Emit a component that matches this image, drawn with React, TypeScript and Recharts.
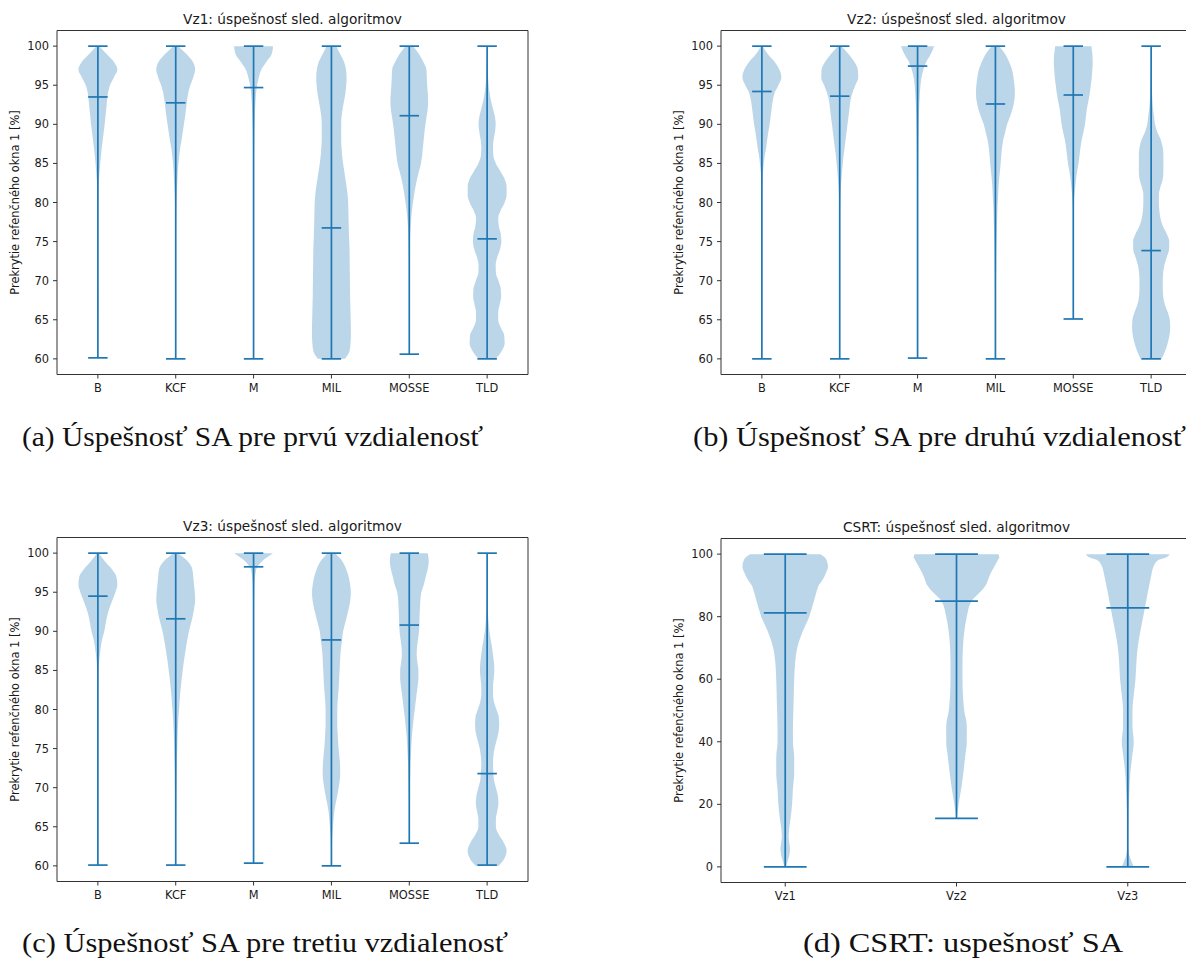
import React from 'react';
import { ComposedChart, Area, XAxis, YAxis, ReferenceLine, ReferenceArea } from 'recharts';

const BLUE = '#1f77b4';
const FONT = 'DejaVu Sans';
const HALF = 0.25; // max violin half width (category units)
const CAP = 0.125; // half length of min / max / mean markers

// ---------- value levels ----------
const LEVELS_PCT = [
  60, 61, 62, 63, 64, 65, 66, 67, 68, 69,
  70, 71, 72, 73, 74, 75, 76, 77, 78, 79,
  80, 81, 82, 83, 84, 85, 86, 87, 88, 89,
  90, 91, 92, 93, 94, 95, 96, 97, 98, 99,
  100,
];
const LEVELS_CSRT = [0, 2, 4, 6, 8, 10, 15, 16, 20, 25, 30, 35, 40, 45, 50, 55, 60, 65, 70, 75, 80, 85, 88, 90, 92, 94, 96, 98, 99, 100];

const ALGOS = ['B', 'KCF', 'M', 'MIL', 'MOSSE', 'TLD'];
const DIST = ['Vz1', 'Vz2', 'Vz3'];
const PCT_TICKS = [60, 65, 70, 75, 80, 85, 90, 95, 100];
const CSRT_TICKS = [0, 20, 40, 60, 80, 100];

// ---------- Vz1 (relative density per level 60..100) ----------
const vz1B = [null, 0.01, 0.01, 0.015, 0.02, 0.025, 0.03, 0.035, 0.03, 0.02, 0.015, 0.01, 0.01, 0.01, 0.01, 0.01, 0.01, 0.01, 0.01, 0.015, 0.02, 0.03, 0.04, 0.06, 0.09, 0.12, 0.16, 0.2, 0.25, 0.3, 0.35, 0.39, 0.43, 0.47, 0.52, 0.62, 0.82, 1.0, 0.82, 0.45, 0.08];
const vz1KCF = [0.005, 0.005, 0.005, 0.005, 0.005, 0.005, 0.005, 0.005, 0.005, 0.005, 0.005, 0.01, 0.01, 0.01, 0.01, 0.01, 0.015, 0.02, 0.025, 0.03, 0.04, 0.05, 0.07, 0.09, 0.11, 0.14, 0.18, 0.23, 0.3, 0.36, 0.42, 0.48, 0.53, 0.58, 0.64, 0.75, 0.9, 1.0, 0.88, 0.55, 0.12];
const vz1M = [0.006, 0.006, 0.006, 0.006, 0.006, 0.006, 0.006, 0.006, 0.006, 0.006, 0.006, 0.006, 0.006, 0.006, 0.006, 0.006, 0.006, 0.006, 0.006, 0.006, 0.01, 0.012, 0.013, 0.015, 0.018, 0.02, 0.025, 0.03, 0.035, 0.04, 0.05, 0.065, 0.08, 0.1, 0.13, 0.18, 0.27, 0.4, 0.66, 0.93, 1.0];
const vz1MIL = [0.7, 0.93, 0.98, 1.0, 1.0, 0.99, 0.98, 0.97, 0.96, 0.955, 0.95, 0.945, 0.94, 0.935, 0.93, 0.915, 0.9, 0.89, 0.88, 0.87, 0.86, 0.83, 0.78, 0.72, 0.66, 0.6, 0.55, 0.52, 0.5, 0.5, 0.5, 0.52, 0.58, 0.65, 0.72, 0.76, 0.78, 0.75, 0.65, 0.45, 0.25];
const vz1MOSSE = [null, 0.005, 0.005, 0.005, 0.005, 0.005, 0.005, 0.005, 0.005, 0.005, 0.01, 0.012, 0.015, 0.02, 0.025, 0.035, 0.05, 0.07, 0.1, 0.14, 0.19, 0.25, 0.32, 0.4, 0.5, 0.6, 0.66, 0.7, 0.74, 0.78, 0.83, 0.89, 0.95, 0.97, 0.95, 0.92, 0.9, 0.88, 0.72, 0.5, 0.2];
const vz1TLD = [0.45, 0.75, 0.9, 0.88, 0.7, 0.57, 0.57, 0.65, 0.72, 0.7, 0.58, 0.45, 0.44, 0.52, 0.66, 0.73, 0.7, 0.6, 0.57, 0.7, 0.9, 1.0, 1.0, 0.9, 0.68, 0.45, 0.32, 0.3, 0.33, 0.4, 0.44, 0.4, 0.3, 0.2, 0.13, 0.08, 0.05, 0.03, 0.02, 0.01, 0.005];
const vz1Min = [60.13, 60.0, 60.0, 60.0, 60.6, 60.0];
const vz1Max = [100, 100, 100, 100, 100, 100];
const vz1Mean = [93.5, 92.75, 94.7, 76.75, 91.1, 75.35];

// ---------- Vz2 ----------
const vz2B = [0.005, 0.005, 0.005, 0.005, 0.005, 0.005, 0.005, 0.005, 0.005, 0.005, 0.005, 0.005, 0.005, 0.005, 0.005, 0.005, 0.005, 0.005, 0.005, 0.005, 0.005, 0.005, 0.015, 0.03, 0.06, 0.1, 0.15, 0.22, 0.27, 0.33, 0.4, 0.45, 0.5, 0.56, 0.65, 0.85, 1.0, 0.9, 0.65, 0.3, 0.05];
const vz2KCF = [0.005, 0.005, 0.005, 0.005, 0.005, 0.005, 0.005, 0.005, 0.005, 0.005, 0.005, 0.005, 0.005, 0.005, 0.005, 0.005, 0.005, 0.005, 0.01, 0.02, 0.03, 0.04, 0.06, 0.09, 0.12, 0.16, 0.2, 0.25, 0.3, 0.35, 0.4, 0.45, 0.5, 0.55, 0.65, 0.8, 0.95, 0.93, 0.75, 0.45, 0.1];
const vz2M = [null, 0.005, 0.005, 0.005, 0.005, 0.01, 0.01, 0.01, 0.01, 0.01, 0.01, 0.012, 0.012, 0.012, 0.012, 0.012, 0.015, 0.015, 0.015, 0.015, 0.02, 0.022, 0.025, 0.028, 0.03, 0.032, 0.035, 0.04, 0.045, 0.05, 0.06, 0.07, 0.08, 0.1, 0.12, 0.15, 0.2, 0.3, 0.45, 0.68, 0.85];
const vz2MIL = [0.005, 0.005, 0.005, 0.005, 0.005, 0.01, 0.012, 0.015, 0.02, 0.025, 0.03, 0.035, 0.04, 0.045, 0.05, 0.06, 0.07, 0.08, 0.09, 0.1, 0.12, 0.14, 0.16, 0.19, 0.23, 0.27, 0.3, 0.34, 0.4, 0.5, 0.6, 0.75, 0.88, 0.97, 1.0, 0.98, 0.93, 0.85, 0.7, 0.5, 0.2];
const vz2MOSSE = [null, null, null, null, null, null, 0.005, 0.005, 0.005, 0.005, 0.005, 0.005, 0.005, 0.005, 0.005, 0.005, 0.005, 0.005, 0.01, 0.015, 0.03, 0.06, 0.1, 0.14, 0.2, 0.27, 0.32, 0.37, 0.43, 0.52, 0.6, 0.65, 0.7, 0.78, 0.85, 0.9, 0.95, 0.98, 1.0, 0.98, 0.93];
const vz2TLD = [0.54, 0.72, 0.85, 0.94, 0.98, 0.96, 0.85, 0.7, 0.62, 0.6, 0.6, 0.62, 0.68, 0.8, 0.92, 0.93, 0.8, 0.6, 0.48, 0.42, 0.4, 0.4, 0.48, 0.6, 0.63, 0.63, 0.63, 0.6, 0.5, 0.32, 0.2, 0.15, 0.1, 0.07, 0.05, 0.03, 0.02, 0.01, 0.005, 0.005, 0.005];
const vz2Min = [60.0, 60.0, 60.1, 60.0, 65.1, 60.0];
const vz2Max = [100, 100, 100, 100, 100, 100];
const vz2Mean = [94.2, 93.6, 97.45, 92.6, 93.75, 73.85];

// ---------- Vz3 ----------
const vz3B = [0.005, 0.005, 0.005, 0.005, 0.005, 0.005, 0.005, 0.005, 0.005, 0.005, 0.005, 0.005, 0.005, 0.005, 0.005, 0.005, 0.005, 0.005, 0.005, 0.005, 0.005, 0.005, 0.005, 0.01, 0.02, 0.04, 0.06, 0.1, 0.15, 0.22, 0.33, 0.4, 0.48, 0.6, 0.75, 0.9, 1.0, 0.95, 0.7, 0.35, 0.05];
const vz3KCF = [0.005, 0.005, 0.01, 0.012, 0.015, 0.017, 0.02, 0.025, 0.03, 0.035, 0.04, 0.045, 0.05, 0.06, 0.07, 0.08, 0.09, 0.1, 0.12, 0.14, 0.17, 0.2, 0.23, 0.27, 0.31, 0.36, 0.41, 0.47, 0.53, 0.6, 0.68, 0.78, 0.88, 0.95, 1.0, 0.98, 0.94, 0.9, 0.85, 0.6, 0.12];
const vz3M = [null, 0.005, 0.005, 0.005, 0.005, 0.005, 0.005, 0.005, 0.005, 0.005, 0.005, 0.005, 0.005, 0.005, 0.005, 0.005, 0.005, 0.005, 0.005, 0.005, 0.005, 0.005, 0.005, 0.005, 0.005, 0.01, 0.01, 0.01, 0.01, 0.01, 0.015, 0.015, 0.02, 0.025, 0.03, 0.04, 0.05, 0.08, 0.15, 0.45, 1.0];
const vz3MIL = [0.005, 0.01, 0.02, 0.03, 0.05, 0.08, 0.11, 0.15, 0.22, 0.3, 0.37, 0.43, 0.45, 0.44, 0.41, 0.37, 0.34, 0.32, 0.3, 0.3, 0.3, 0.32, 0.35, 0.38, 0.4, 0.42, 0.44, 0.46, 0.5, 0.55, 0.6, 0.7, 0.8, 0.9, 0.97, 1.0, 0.96, 0.88, 0.75, 0.55, 0.2];
const vz3MOSSE = [null, null, null, 0.005, 0.005, 0.005, 0.01, 0.01, 0.015, 0.02, 0.03, 0.04, 0.05, 0.06, 0.08, 0.1, 0.12, 0.15, 0.19, 0.23, 0.28, 0.33, 0.38, 0.43, 0.47, 0.47, 0.42, 0.38, 0.4, 0.45, 0.5, 0.52, 0.53, 0.55, 0.57, 0.62, 0.75, 0.85, 0.95, 1.0, 0.95];
const vz3TLD = [0.6, 0.9, 1.0, 0.85, 0.6, 0.45, 0.45, 0.52, 0.58, 0.55, 0.45, 0.35, 0.32, 0.3, 0.32, 0.38, 0.48, 0.58, 0.62, 0.6, 0.48, 0.35, 0.3, 0.3, 0.34, 0.37, 0.35, 0.3, 0.25, 0.18, 0.12, 0.08, 0.05, 0.03, 0.02, 0.01, 0.005, 0.005, 0.005, 0.005, 0.005];
const vz3Min = [60.1, 60.1, 60.35, 60.0, 62.9, 60.1];
const vz3Max = [100, 100, 100, 100, 100, 100];
const vz3Mean = [94.5, 91.6, 98.25, 88.9, 90.8, 71.8];

// ---------- CSRT (relative density per level in LEVELS_CSRT) ----------
const csrtVz1 = [0.02, 0.06, 0.1, 0.11, 0.09, 0.08, 0.12, 0.13, 0.16, 0.18, 0.21, 0.21, 0.18, 0.18, 0.19, 0.2, 0.21, 0.23, 0.28, 0.4, 0.56, 0.67, 0.73, 0.78, 0.88, 0.95, 1.0, 0.97, 0.92, 0.82];
const csrtVz2 = [null, null, null, null, null, null, null, 0.01, 0.05, 0.11, 0.16, 0.2, 0.24, 0.24, 0.18, 0.15, 0.14, 0.14, 0.15, 0.18, 0.24, 0.35, 0.56, 0.68, 0.74, 0.8, 0.88, 0.96, 1.0, 0.98];
const csrtVz3 = [0.14, 0.08, 0.03, 0.015, 0.01, 0.01, 0.015, 0.015, 0.025, 0.04, 0.06, 0.1, 0.14, 0.11, 0.11, 0.14, 0.18, 0.2, 0.23, 0.29, 0.36, 0.43, 0.47, 0.5, 0.53, 0.56, 0.6, 0.7, 0.9, 0.98];
const csrtMin = [0, 15.5, 0];
const csrtMax = [100, 100, 100];
const csrtMean = [81.2, 85.0, 82.8];

const Y_LABEL = 'Prekrytie refenčného okna 1 [%]';

function buildRows(levels: number[], names: string[], dens: any[]) {
  return levels.map((v, i) => {
    const row: any = { v };
    names.forEach((name, k) => {
      const w = dens[k][i];
      if (w !== null && w !== undefined) row[name] = [k + 1 - HALF * w, k + 1 + HALF * w];
    });
    return row;
  });
}

function ViolinPanel(props: any) {
  const { left, top, names, levels, dens, mins, maxs, means, yDomain, yTicks } = props;
  const n = names.length;
  const m = 0.05 * (n - 0.5);
  const xDomain = [0.75 - m, n + 0.25 + m];
  const rows = buildRows(levels, names, dens);
  const tickStyle = { fontFamily: FONT, fontSize: 11.4, fill: '#1a1a1a' };
  const lines: any[] = [];
  names.forEach((name: string, k: number) => {
    const x = k + 1;
    const lp = { stroke: BLUE, strokeWidth: 1.7, ifOverflow: 'visible' as const };
    lines.push(<ReferenceLine key={name + 'bar'} segment={[{ x, y: mins[k] }, { x, y: maxs[k] }]} {...lp} />);
    lines.push(<ReferenceLine key={name + 'min'} segment={[{ x: x - CAP, y: mins[k] }, { x: x + CAP, y: mins[k] }]} {...lp} />);
    lines.push(<ReferenceLine key={name + 'max'} segment={[{ x: x - CAP, y: maxs[k] }, { x: x + CAP, y: maxs[k] }]} {...lp} />);
    lines.push(<ReferenceLine key={name + 'mean'} segment={[{ x: x - CAP, y: means[k] }, { x: x + CAP, y: means[k] }]} {...lp} />);
  });
  return (
    <div style={{ position: 'absolute', left, top }}>
      <ComposedChart
        width={540}
        height={400}
        layout="vertical"
        data={rows}
        margin={{ top: 30.5, right: 12, bottom: 0, left: 0 }}
      >
        <XAxis
          type="number"
          domain={xDomain}
          allowDataOverflow
          ticks={names.map((_: string, k: number) => k + 1)}
          tickFormatter={(t: number) => names[Math.round(t) - 1]}
          interval={0}
          height={25.5}
          tickSize={4}
          tickMargin={5}
          axisLine={false}
          tickLine={{ stroke: '#333' }}
          tick={tickStyle}
        />
        <YAxis
          type="number"
          dataKey="v"
          domain={yDomain}
          allowDataOverflow
          reversed
          ticks={yTicks}
          interval={0}
          width={57}
          tickSize={4}
          tickMargin={4}
          axisLine={false}
          tickLine={{ stroke: '#333' }}
          tick={tickStyle}
        />
        {names.map((name: string) => (
          <Area
            key={name}
            type="monotone"
            dataKey={name}
            stroke="none"
            fill={BLUE}
            fillOpacity={0.3}
            isAnimationActive={false}
            dot={false}
            activeDot={false}
            connectNulls={false}
          />
        ))}
        {lines}
        <ReferenceArea
          x1={xDomain[0]}
          x2={xDomain[1]}
          y1={yDomain[0]}
          y2={yDomain[1]}
          fill="none"
          fillOpacity={0}
          stroke="#333"
          strokeWidth={1}
          ifOverflow="visible"
        />
      </ComposedChart>
    </div>
  );
}

const TITLES = [
  'Vz1: úspešnosť sled. algoritmov',
  'Vz2: úspešnosť sled. algoritmov',
  'Vz3: úspešnosť sled. algoritmov',
  'CSRT: úspešnosť sled. algoritmov',
];
const CAPTIONS = [
  '(a) Úspešnosť SA pre prvú vzdialenosť',
  '(b) Úspešnosť SA pre druhú vzdialenosť',
  '(c) Úspešnosť SA pre tretiu vzdialenosť',
  '(d) CSRT: uspešnosť SA',
];

export default function App() {
  const titleStyle: any = { fontFamily: FONT, fontSize: 13.7, fill: '#1a1a1a' };
  const labStyle: any = { fontFamily: FONT, fontSize: 11.4, fill: '#1a1a1a' };
  const capStyle: any = { fontFamily: 'Liberation Serif', fontSize: 28, fill: '#111' };
  return (
    <div style={{ position: 'absolute', left: 0, top: 0, width: 1186, height: 963, overflow: 'hidden', background: '#fff' }}>
      <ViolinPanel left={0} top={0} names={ALGOS} levels={LEVELS_PCT}
        dens={[vz1B, vz1KCF, vz1M, vz1MIL, vz1MOSSE, vz1TLD]}
        mins={vz1Min} maxs={vz1Max} means={vz1Mean} yDomain={[58, 102]} yTicks={PCT_TICKS} />
      <ViolinPanel left={664} top={0} names={ALGOS} levels={LEVELS_PCT}
        dens={[vz2B, vz2KCF, vz2M, vz2MIL, vz2MOSSE, vz2TLD]}
        mins={vz2Min} maxs={vz2Max} means={vz2Mean} yDomain={[58, 102]} yTicks={PCT_TICKS} />
      <ViolinPanel left={0} top={507} names={ALGOS} levels={LEVELS_PCT}
        dens={[vz3B, vz3KCF, vz3M, vz3MIL, vz3MOSSE, vz3TLD]}
        mins={vz3Min} maxs={vz3Max} means={vz3Mean} yDomain={[58, 102]} yTicks={PCT_TICKS} />
      <ViolinPanel left={664} top={508} names={DIST} levels={LEVELS_CSRT}
        dens={[csrtVz1, csrtVz2, csrtVz3]}
        mins={csrtMin} maxs={csrtMax} means={csrtMean} yDomain={[-5, 105]} yTicks={CSRT_TICKS} />
      <svg width={1186} height={963} style={{ position: 'absolute', left: 0, top: 0, pointerEvents: 'none' }}>
        <text x={292.5} y={23.5} textAnchor="middle" style={titleStyle}>{TITLES[0]}</text>
        <text x={956.5} y={23.5} textAnchor="middle" style={titleStyle}>{TITLES[1]}</text>
        <text x={292.5} y={530.5} textAnchor="middle" style={titleStyle}>{TITLES[2]}</text>
        <text x={956.5} y={531.5} textAnchor="middle" style={titleStyle}>{TITLES[3]}</text>
        <text transform="translate(18.7,202.5) rotate(-90)" textAnchor="middle" style={labStyle}>{Y_LABEL}</text>
        <text transform="translate(682.7,202.5) rotate(-90)" textAnchor="middle" style={labStyle}>{Y_LABEL}</text>
        <text transform="translate(18.7,709.5) rotate(-90)" textAnchor="middle" style={labStyle}>{Y_LABEL}</text>
        <text transform="translate(682.7,710.5) rotate(-90)" textAnchor="middle" style={labStyle}>{Y_LABEL}</text>
        <text x={22} y={446} textLength={461} lengthAdjust="spacingAndGlyphs" style={capStyle}>{CAPTIONS[0]}</text>
        <text x={693} y={446} textLength={493} lengthAdjust="spacingAndGlyphs" style={capStyle}>{CAPTIONS[1]}</text>
        <text x={22} y={952} textLength={486} lengthAdjust="spacingAndGlyphs" style={capStyle}>{CAPTIONS[2]}</text>
        <text x={803} y={952} textLength={320} lengthAdjust="spacingAndGlyphs" style={capStyle}>{CAPTIONS[3]}</text>
      </svg>
    </div>
  );
}
